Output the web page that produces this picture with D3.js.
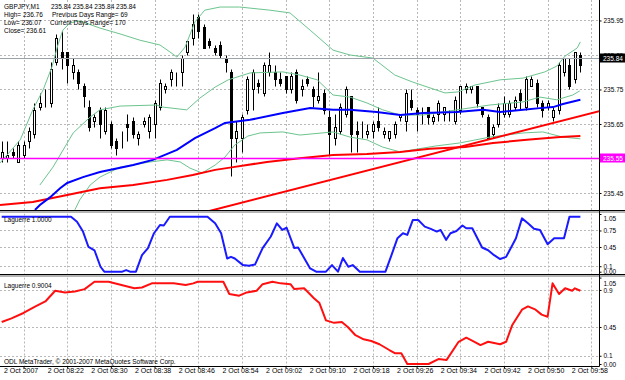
<!DOCTYPE html>
<html>
<head>
<meta charset="utf-8">
<script src="https://cdn.jsdelivr.net/npm/d3@7"></script>
<style>
body{margin:0;background:#fff;}
svg{display:block;}
text{font-family:"Liberation Sans",Arial,sans-serif;fill:#000;}
</style>
</head>
<body>
<svg id="chart" width="625" height="380"></svg>
<script>
// GBPJPY M1, bar 0 = 08:14, first bar shown = 08:10
var firstBar = -4;

var opens = [235.55,235.55,235.57,235.54,235.56,235.60,235.62,235.70,235.73,235.71,
235.83,235.86,235.86,235.80,235.80,235.76,235.70,235.66,235.69,235.63,
235.65,235.60,235.61,235.65,235.66,235.61,235.65,235.63,235.65,235.70,
235.75,235.78,235.78,235.80,235.86,235.90,235.96,235.93,235.89,235.87,
235.88,235.84,235.80,235.61,235.61,235.69,235.75,235.77,235.74,235.80,
235.80,235.78,235.79,235.75,235.80,235.75,235.78,235.75,235.72,235.74,
235.67,235.61,235.63,235.68,235.73,235.63,235.62,235.62,235.63,235.66,
235.62,235.61,235.62,235.67,235.66,235.72,235.69,235.68,235.70,235.66,
235.68,235.68,235.68,235.66,235.69,235.75,235.75,235.76,235.70,235.67,
235.62,235.65,235.68,235.68,235.70,235.74,235.70,235.76,235.77,235.71,
235.70,235.67,235.69,235.80,235.82,235.78,235.85];
var highs = [235.60,235.60,235.58,235.60,235.60,235.64,235.71,235.74,235.75,235.83,
235.91,235.92,235.86,235.84,235.81,235.77,235.72,235.68,235.70,235.70,
235.66,235.61,235.63,235.68,235.67,235.63,235.67,235.68,235.72,235.78,
235.77,235.81,235.80,235.85,235.89,235.97,235.97,235.94,235.90,235.88,
235.89,235.85,235.81,235.66,235.68,235.79,235.81,235.78,235.83,235.86,
235.82,235.80,235.79,235.80,235.81,235.78,235.79,235.76,235.80,235.75,
235.69,235.68,235.71,235.76,235.73,235.66,235.66,235.65,235.66,235.70,
235.64,235.63,235.66,235.68,235.75,235.75,235.70,235.70,235.70,235.68,
235.72,235.70,235.69,235.73,235.76,235.77,235.76,235.76,235.70,235.68,
235.65,235.71,235.73,235.72,235.73,235.75,235.79,235.79,235.78,235.72,
235.72,235.70,235.83,235.84,235.84,235.86,235.86];
var lows = [235.54,235.54,235.55,235.54,235.55,235.58,235.61,235.69,235.70,235.70,
235.82,235.81,235.77,235.78,235.75,235.70,235.63,235.64,235.61,235.62,
235.58,235.56,235.58,235.60,235.61,235.59,235.64,235.61,235.61,235.69,
235.74,235.76,235.76,235.76,235.85,235.88,235.90,235.87,235.87,235.85,
235.84,235.80,235.50,235.54,235.57,235.68,235.69,235.74,235.73,235.79,
235.76,235.76,235.74,235.74,235.71,235.73,235.76,235.70,235.71,235.68,
235.56,235.59,235.62,235.67,235.57,235.57,235.61,235.61,235.61,235.63,
235.61,235.60,235.61,235.66,235.63,235.69,235.63,235.65,235.65,235.65,
235.66,235.66,235.66,235.65,235.68,235.74,235.74,235.70,235.67,235.61,
235.61,235.64,235.67,235.67,235.69,235.69,235.69,235.76,235.70,235.67,
235.69,235.66,235.68,235.79,235.75,235.77,235.80];
var closes = [235.57,235.56,235.56,235.59,235.59,235.63,235.69,235.71,235.73,235.81,
235.90,235.84,235.82,235.82,235.77,235.73,235.64,235.67,235.65,235.69,
235.59,235.58,235.61,235.64,235.62,235.62,235.66,235.67,235.71,235.77,
235.76,235.80,235.78,235.84,235.89,235.94,235.92,235.87,235.88,235.86,
235.85,235.83,235.61,235.63,235.67,235.78,235.80,235.76,235.82,235.82,
235.78,235.77,235.75,235.79,235.72,235.76,235.77,235.73,235.73,235.69,
235.62,235.64,235.70,235.75,235.62,235.62,235.62,235.63,235.65,235.64,
235.63,235.63,235.65,235.68,235.74,235.70,235.68,235.68,235.67,235.67,
235.71,235.70,235.68,235.72,235.76,235.76,235.76,235.71,235.68,235.61,
235.64,235.70,235.71,235.71,235.72,235.72,235.78,235.78,235.71,235.69,
235.71,235.69,235.82,235.84,235.76,235.86,235.82];

// Bollinger bands (bar position, price)
var upperBars = [-4.3,-0.6,1.7,3.6,5.2,6.3,7.2,8.5,10.3,14,17.7,21.3,25,26.8,28.1,29.6,31.4,33.2,36,39.6,45.1,48.8,52.5,56.7,59.8,64,68,71.2,77.2,79.6,82.7,87.3,91.5,95.5,97.7,99.2,101.4,102];
var upperVals = [235.537,235.604,235.691,235.749,235.815,235.879,235.922,235.943,235.949,235.928,235.911,235.893,235.879,235.859,235.844,235.873,235.946,235.980,235.989,235.989,235.980,235.972,235.922,235.864,235.850,235.841,235.792,235.772,235.740,235.743,235.763,235.778,235.783,235.801,235.818,235.847,235.870,235.888];
var middleBars = [3,5.4,9.1,12.2,14,17.7,24.4,25.5,29.9,32.3,35.1,37.5,41.5,47.5,50.6,53.8,56.7,59.8,62.9,65.8,69,73.2,79.4,85.4,91.5,94.6,97.7,100.6,101.9];
var middleVals = [235.473,235.525,235.624,235.670,235.691,235.702,235.705,235.699,235.691,235.725,235.757,235.778,235.798,235.801,235.792,235.778,235.734,235.728,235.711,235.691,235.676,235.676,235.691,235.705,235.714,235.728,235.720,235.734,235.746];
var lowerBars = [9.4,10.3,12.2,14,17.7,23.2,26.3,28.7,30.5,32.7,35.1,36.9,38.7,41.1,43.3,47.5,50.6,56.7,59.8,62.9,65.8,69,71.2,75.4,79.9,85.4,91.5,95.1,98.8,102];
var lowerVals = [235.401,235.430,235.473,235.496,235.525,235.540,235.546,235.540,235.522,235.508,235.531,235.554,235.589,235.615,235.624,235.627,235.618,235.627,235.612,235.604,235.583,235.569,235.575,235.586,235.595,235.612,235.624,235.627,235.612,235.607];

// moving averages
var blueBars = [2.1,3,4.9,6.7,8,10.9,14,20.1,23.7,28.1,31.4,35.1,36.9,41.5,47.5,52.5,56.7,59.8,64.7,69,73.2,79.4,84.2,87.3,91.5,94.6,97,98.8,102];
var blueVals = [235.401,235.415,235.438,235.464,235.479,235.496,235.511,235.531,235.546,235.575,235.609,235.638,235.653,235.662,235.682,235.696,235.691,235.691,235.685,235.676,235.682,235.685,235.691,235.685,235.691,235.696,235.699,235.708,235.720];
var redBars = [-4.3,1.7,8,14,20.1,26.3,31,35.1,38.4,44.6,50.6,56.7,62.9,69,74.4,80.9,86,92.2,98.3,102];
var redVals = [235.415,235.424,235.444,235.464,235.473,235.488,235.502,235.517,235.525,235.540,235.551,235.560,235.563,235.569,235.578,235.583,235.595,235.604,235.612,235.615];

// trend line anchors
var trendBars = [40, 100];
var trendVals = [235.422, 235.665];

var bidPrice = 235.84;
var levelPrice = 235.55;

// Laguerre indicators
var lag1Bars = [-4,8.7,9.8,10.9,11.9,13,14.1,14.8,18.1,18.8,19.5,20.6,21.7,22.8,23.9,25,25.7,26.8,33.7,35.1,36.2,37.3,38,38.7,40.2,41.3,42.4,43.8,45.3,46.4,47.4,48.2,49.6,50.3,52.5,53.6,55.4,56.5,57.6,58.5,59.5,60.3,61.6,66.3,67.4,68.5,69.5,70.3,71.3,72.3,73.5,74.6,75.7,76.4,77.4,78.2,79.3,80.4,81.1,82.2,84,85.1,86.2,87.3,88.4,90.2,91.3,92.4,93.5,94.6,96,97.2,99,100,102];
var lag1Vals = [1,1,0.91,0.73,0.45,0.39,0.09,0,0,0.03,0,0,0.30,0.43,0.70,0.85,0.84,1,1,0.88,0.70,0.24,0.27,0.24,0.12,0.11,0.13,0.43,0.64,0.88,0.76,0.80,0.43,0.44,0.06,0,0,0.12,0,0.25,0.09,0.12,0,0,0.30,0.61,0.70,0.67,0.94,0.94,0.82,0.78,0.73,0.76,0.58,0.70,0.74,0.84,0.79,0.79,0.44,0.39,0.30,0.23,0.27,0.61,0.97,0.88,0.78,0.76,0.50,0.61,0.61,1,1];
var lag2Bars = [-4,-2.2,0,2.2,4,5.8,7.6,9.4,11.2,13,15.6,17.4,20.3,21.7,23.5,27.5,29.7,31.1,31.9,36.6,37.7,39.5,40.9,42.7,43.8,45.6,47.1,48.9,49.6,51.4,53.2,54.2,55.4,56.9,58.3,59.4,60.8,62.3,63.7,65.2,67,68.1,69.2,70.3,74.2,76,77.5,79.7,81.1,82.6,83.7,85.1,87.3,88.4,89.5,91.3,92.4,93.8,94.9,96,96.9,98.1,99.2,100.5,101,102];
var lag2Vals = [0.51,0.555,0.62,0.70,0.76,0.89,0.87,0.88,0.91,1,1,0.97,0.92,0.93,0.98,0.98,0.96,0.98,1,1,0.85,0.83,0.87,0.89,0.97,1,0.98,0.97,0.91,0.92,0.80,0.74,0.53,0.50,0.51,0.45,0.35,0.30,0.28,0.24,0.17,0.13,0.13,0,0,0.06,0.05,0.27,0.32,0.27,0.23,0.27,0.24,0.27,0.47,0.66,0.70,0.66,0.60,0.575,0.98,0.85,0.92,0.89,0.92,0.89];

var timeBars = [0,8,16,24,32,40,48,56,64,72,80,88,96,104];
var timeLabels = ["2 Oct 2007","2 Oct 08:22","2 Oct 08:30","2 Oct 08:38","2 Oct 08:46","2 Oct 08:54",
  "2 Oct 09:02","2 Oct 09:10","2 Oct 09:18","2 Oct 09:26","2 Oct 09:34","2 Oct 09:42","2 Oct 09:50","2 Oct 09:58"];
var priceTicks = [235.45,235.55,235.65,235.75,235.85,235.95];
var lag1Ticks = [1.05,0.75,0.45,0.1,0];
var lag1Levels = [0.75,0.45,0.1];
var lag2Ticks = [1.05,0.9,0.45,0.1,0];
var lag2Levels = [0.9,0.45,0.1];

var svg = d3.select("#chart");
var right = 599.5;

var xScale = d3.scaleLinear().domain([0,104]).range([23.5,591.3]);
var yMain = d3.scaleLinear().domain([235.4007,236.0094]).range([210,0]);
var yLag1 = d3.scaleLinear().domain([0,1.05]).range([271.7,214]);
var yLag2 = d3.scaleLinear().domain([0,1.05]).range([364,277.6]);

var defs = svg.append("defs");
var addClip = function(id, y0, y1)
{
    defs.append("clipPath").attr("id",id)
        .append("rect").attr("x",0).attr("y",y0).attr("width",right).attr("height",y1-y0);
};
addClip("clipMain",0,210);
addClip("clipLag1",213.5,274);
addClip("clipLag2",277.5,366);

var snap = function(v){ return Math.round(v)+0.5; };

var drawVGrid = function(target, y0, y1)
{
    target.selectAll("line.vgrid")
        .data(timeBars)
        .enter()
        .append("line")
        .attr("x1",function(d){return snap(xScale(d));})
        .attr("x2",function(d){return snap(xScale(d));})
        .attr("y1",y0).attr("y2",y1)
        .attr("stroke","#b8b8b8")
        .attr("stroke-dasharray","2,2");
};

var drawHGrid = function(target, values, scale)
{
    target.selectAll("line.hgrid")
        .data(values)
        .enter()
        .append("line")
        .attr("x1",0).attr("x2",right)
        .attr("y1",function(d){return snap(scale(d));})
        .attr("y2",function(d){return snap(scale(d));})
        .attr("stroke","#b8b8b8")
        .attr("stroke-dasharray","2,2");
};

// ---- main pane
var main = svg.append("g").attr("clip-path","url(#clipMain)");
drawVGrid(main,0,210);
drawHGrid(main,priceTicks,yMain);

var bars = opens.map(function(o,i)
{
    return {bar:firstBar+i, o:o, h:highs[i], l:lows[i], c:closes[i]};
});

var candles = main.selectAll("g.candle")
    .data(bars)
    .enter()
    .append("g");

candles.append("line")
    .attr("x1",function(d){return Math.round(xScale(d.bar))+0.5;})
    .attr("x2",function(d){return Math.round(xScale(d.bar))+0.5;})
    .attr("y1",function(d){return snap(yMain(d.h));})
    .attr("y2",function(d){return snap(yMain(d.l));})
    .attr("stroke","#000");

candles.append("rect")
    .attr("x",function(d){return Math.round(xScale(d.bar))-0.5;})
    .attr("width",2)
    .attr("y",function(d){return snap(yMain(Math.max(d.o,d.c)));})
    .attr("height",function(d){return snap(yMain(Math.min(d.o,d.c)))-snap(yMain(Math.max(d.o,d.c)));})
    .attr("fill",function(d){return d.c>=d.o ? "#fff" : "#000";})
    .attr("stroke","#000");

var priceLine = function(barsArr, valsArr, scale)
{
    return d3.line()
        .x(function(d){return xScale(d[0]);})
        .y(function(d){return scale(d[1]);})(d3.zip(barsArr,valsArr));
};

var bands = [[upperBars,upperVals],[middleBars,middleVals],[lowerBars,lowerVals]];
bands.forEach(function(b)
{
    main.append("path")
        .attr("d",priceLine(b[0],b[1],yMain))
        .attr("fill","none")
        .attr("stroke","#6cc48e")
        .attr("stroke-width",1);
});

main.append("path")
    .attr("d",priceLine(redBars,redVals,yMain))
    .attr("fill","none").attr("stroke","#ff0000").attr("stroke-width",2);

main.append("path")
    .attr("d",priceLine(blueBars,blueVals,yMain))
    .attr("fill","none").attr("stroke","#0000ff").attr("stroke-width",2);

// trend line extended through its two anchors
var slope = (trendVals[1]-trendVals[0])/(trendBars[1]-trendBars[0]);
var trendEnds = [20,108].map(function(b){ return [b, trendVals[0]+(b-trendBars[0])*slope]; });
main.append("line")
    .attr("x1",xScale(trendEnds[0][0])).attr("y1",yMain(trendEnds[0][1]))
    .attr("x2",xScale(trendEnds[1][0])).attr("y2",yMain(trendEnds[1][1]))
    .attr("stroke","#ff0000").attr("stroke-width",2);

main.append("line")
    .attr("x1",0).attr("x2",right)
    .attr("y1",snap(yMain(levelPrice))).attr("y2",snap(yMain(levelPrice)))
    .attr("stroke","#ff00ff").attr("stroke-width",1.5);

main.append("line")
    .attr("x1",0).attr("x2",right)
    .attr("y1",snap(yMain(bidPrice))).attr("y2",snap(yMain(bidPrice)))
    .attr("stroke","#9aa2aa");

// header texts
var info = svg.append("g").attr("font-size","6.5px");
var infoRows = [
    [4,8.5,"GBPJPY,M1"],[51,8.5,"235.84 235.84 235.84 235.84"],
    [4,17,"High= 236.76"],[52,17,"Previous Days Range= 69"],
    [4,25.3,"Low= 236.07"],[50,25.3,"Current Days Range= 170"],
    [4,33.3,"Close= 236.61"]];
info.selectAll("text").data(infoRows).enter().append("text")
    .attr("x",function(d){return d[0];})
    .attr("y",function(d){return d[1];})
    .text(function(d){return d[2];});

// ---- Laguerre panes
var drawLagPane = function(clipId, y0, y1, scale, levels, barsArr, valsArr, colour, title, titleY)
{
    var pane = svg.append("g").attr("clip-path","url(#"+clipId+")");
    drawVGrid(pane,y0,y1);
    drawHGrid(pane,levels,scale);
    pane.append("path")
        .attr("d",priceLine(barsArr,valsArr,scale))
        .attr("fill","none")
        .attr("stroke",colour)
        .attr("stroke-width",2)
        .attr("stroke-linejoin","round");
    svg.append("text")
        .attr("x",4).attr("y",titleY)
        .attr("font-size","6.5px")
        .text(title);
};
drawLagPane("clipLag1",213.5,274,yLag1,lag1Levels,lag1Bars,lag1Vals,"#1a1aff","Laguerre 1.0000",222);
drawLagPane("clipLag2",277.5,366,yLag2,lag2Levels,lag2Bars,lag2Vals,"#ff1010","Laguerre 0.9004",287.5);

svg.append("text")
    .attr("x",4).attr("y",363.5)
    .attr("font-size","6.5px")
    .text("ODL MetaTrader, \u00a9 2001-2007 MetaQuotes Software Corp.");

// ---- frames and separators
var separators = [[210.5,213],[274.5,277]];
separators.forEach(function(s)
{
    svg.append("line").attr("x1",0).attr("x2",625).attr("y1",s[0]).attr("y2",s[0]).attr("stroke","#000");
    svg.append("rect").attr("x",0).attr("y",s[0]+0.5).attr("width",625).attr("height",s[1]-s[0]-0.5).attr("fill","#b4b4b4");
});
svg.append("line").attr("x1",right).attr("x2",right).attr("y1",0).attr("y2",366.5).attr("stroke","#000");
svg.append("line").attr("x1",0).attr("x2",right).attr("y1",366.5).attr("y2",366.5).attr("stroke","#000");

// ---- axes (font set after the axis call, which resets it)
var styleAxis = function(g, size)
{
    g.attr("font-size",size).attr("font-family","Liberation Sans, Arial, sans-serif");
    g.select(".domain").remove();
    g.selectAll("text").attr("fill","#000");
    g.selectAll("line").attr("stroke","#000");
};

svg.append("g")
    .attr("transform","translate("+right+",0)")
    .call(d3.axisRight(yMain).tickValues(priceTicks).tickFormat(d3.format(".2f")).tickSize(2).tickPadding(2))
    .call(styleAxis,"6.5px");

var lagAxis = function(scale, ticks, topShift)
{
    var g = svg.append("g")
        .attr("transform","translate("+right+",0)")
        .call(d3.axisRight(scale).tickValues(ticks)
              .tickFormat(function(d){ return d===0 ? "0.00" : (d===0.1 ? "0.1" : (d===0.9 ? "0.9" : d3.format(".2f")(d))); })
              .tickSize(2).tickPadding(2))
        .call(styleAxis,"6.5px");
    g.selectAll(".tick").filter(function(d){return d===1.05;}).select("text").attr("dy",topShift);
};
lagAxis(yLag1,lag1Ticks,"0.95em");
lagAxis(yLag2,lag2Ticks,"1.15em");

var timeAxis = svg.append("g")
    .attr("transform","translate(0,366.5)")
    .call(d3.axisBottom(xScale).tickValues(timeBars)
          .tickFormat(function(d,i){return timeLabels[i];})
          .tickSize(2).tickPadding(0))
    .call(styleAxis,"7px");
timeAxis.selectAll("text").attr("text-anchor","start").attr("dx",-20);

// price markers on the scale
var marker = function(price, fill)
{
    var y = Math.round(yMain(price));
    svg.append("rect").attr("x",600).attr("y",y-4.5).attr("width",25).attr("height",9).attr("fill",fill);
    svg.append("text").attr("x",603).attr("y",y+2.5)
        .attr("font-size","6.5px").style("fill","#fff")
        .text(d3.format(".2f")(price));
};
marker(bidPrice,"#000");
marker(levelPrice,"#ff00ff");
</script>
</body>
</html>
